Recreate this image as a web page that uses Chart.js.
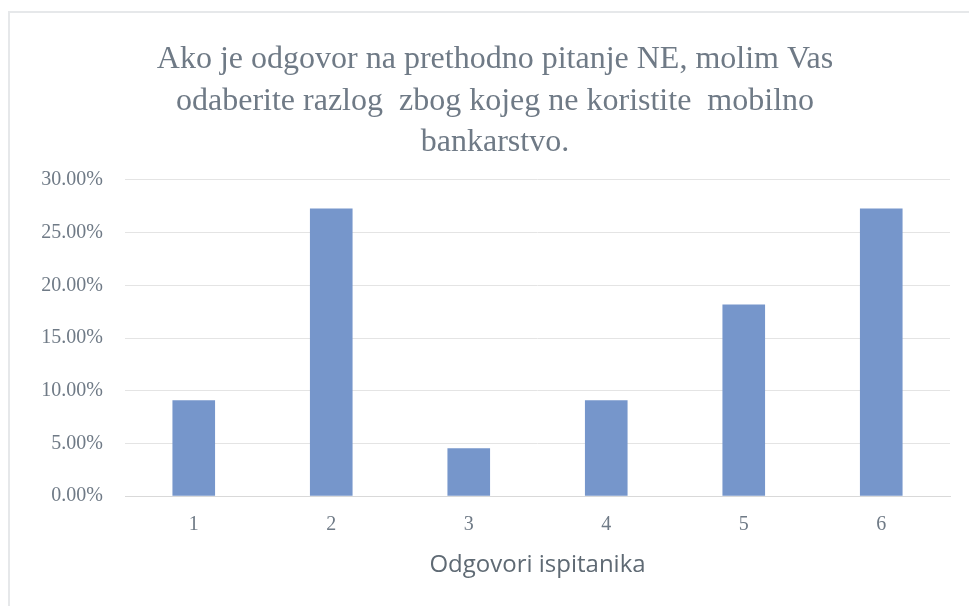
<!DOCTYPE html>
<html>
<head>
<meta charset="utf-8">
<script src="https://cdn.jsdelivr.net/npm/chart.js@4"></script>
<style>
  html, body { margin: 0; padding: 0; background: #ffffff; overflow: hidden; }
  #frame { position: absolute; left: 8px; top: 11px; width: 990px; height: 640px; border: 2px solid #e6e8ea; }
  #wrap { position: absolute; left: -10px; top: -13px; width: 969px; height: 606px; }
</style>
</head>
<body>
<div id="frame"><div id="wrap"><canvas id="c" width="969" height="606"></canvas></div></div>
<script>
const titleLines = ["Ako je odgovor na prethodno pitanje NE, molim Vas", "odaberite razlog  zbog kojeg ne koristite  mobilno", "bankarstvo."];
const categories = ["1", "2", "3", "4", "5", "6"];
const values = [9.09, 27.27, 4.55, 9.09, 18.18, 27.27];
const yTicks = [0, 5, 10, 15, 20, 25, 30];
const xTitle = "Odgovori ispitanika";

const textColor = "#6f7a86";
new Chart(document.getElementById("c"), {
  type: "bar",
  data: {
    labels: categories,
    datasets: [{
      data: values,
      backgroundColor: "#7696cb",
      barPercentage: 0.31,
      categoryPercentage: 1.0
    }]
  },
  options: {
    responsive: false,
    animation: false,
    layout: { padding: { left: 40, right: 19, top: 39, bottom: 26 } },
    plugins: {
      legend: { display: false },
      tooltip: { enabled: false },
      title: {
        display: true,
        text: titleLines,
        color: textColor,
        font: { family: "Liberation Serif", size: 32, weight: "normal", lineHeight: 1.3 },
        padding: { top: 0, bottom: 16 }
      }
    },
    scales: {
      x: {
        grid: { display: false, drawTicks: false },
        border: { color: "#d9d9d9", width: 1 },
        ticks: { color: textColor, font: { family: "Liberation Serif", size: 20 }, padding: 17 },
        title: { display: true, text: xTitle, color: "#5f6a74", font: { family: "Open Sans", size: 24 }, padding: { top: -3, bottom: 0 } }
      },
      y: {
        min: 0, max: 30,
        afterFit: (s) => { s.width = 85; },
        afterBuildTicks: (s) => { s.ticks = yTicks.map(v => ({ value: v })); },
        grid: { color: "#e4e4e4", drawTicks: false },
        border: { display: false },
        ticks: {
          color: textColor,
          font: { family: "Liberation Serif", size: 20 },
          padding: 22,
          callback: (v) => v.toFixed(2) + "%"
        }
      }
    }
  }
});
</script>
</body>
</html>
